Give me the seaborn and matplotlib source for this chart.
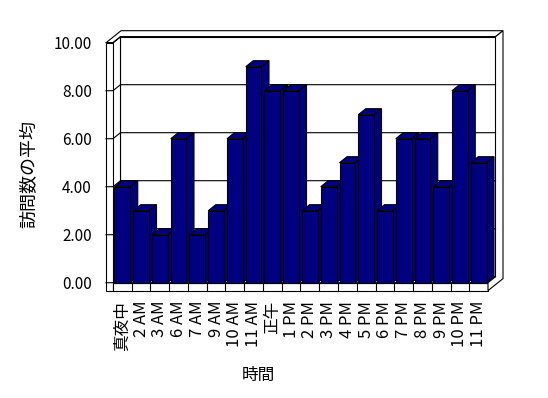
import numpy as np
import pandas as pd
import matplotlib
matplotlib.use("Agg")
import matplotlib.pyplot as plt
import seaborn as sns
from matplotlib.patches import Polygon

# Data
hours = ["真夜中", "2 AM", "3 AM", "6 AM", "7 AM", "9 AM", "10 AM", "11 AM", "正午",
         "1 PM", "2 PM", "3 PM", "4 PM", "5 PM", "6 PM", "7 PM", "8 PM", "9 PM",
         "10 PM", "11 PM"]
visits = [4, 3, 2, 6, 2, 3, 6, 9, 8, 8, 3, 4, 5, 7, 3, 6, 6, 4, 8, 5]
y_ticks = [0, 2, 4, 6, 8, 10]

df = pd.DataFrame({"時間": hours, "訪問数の平均": visits})

plt.rcParams['font.family'] = ['Noto Sans CJK JP', 'DejaVu Sans']

fig = plt.figure(figsize=(5.48, 3.98), dpi=100)
# axes box in pixels: left 100, right 510, top 25, bottom 295
ax = fig.add_axes([100 / 548, 103 / 398, 410 / 548, 270 / 398])

navy = "#000080"
sns.barplot(data=df, x="時間", y="訪問数の平均", order=hours, color=navy,
            saturation=1, width=0.84, edgecolor="black", linewidth=0.8, ax=ax)
bars = list(ax.patches)

# fake 3D: one depth step = 7.5px right, 6px up
DX, DY = 0.4, 0.25
WALL = 0.37    # left wall thickness (x units)
FLOOR = 0.33   # floor thickness (y units)
top = y_ticks[-1]
x0, x1 = -0.5, len(hours) - 0.5


def proj(x, v, z):
    return (x + z * DX, v + z * DY)


def face(pts, zorder, fc="white"):
    ax.add_patch(Polygon([proj(*p) for p in pts], closed=True, facecolor=fc,
                         edgecolor="black", linewidth=0.8, zorder=zorder))


# back wall, left wall inner face, floor top
face([(x0, 0, 1), (x1, 0, 1), (x1, top, 1), (x0, top, 1)], 1)
face([(x0, 0, 0), (x0, top, 0), (x0, top, 1), (x0, 0, 1)], 1.5)
face([(x0, 0, 0), (x1, 0, 0), (x1, 0, 1), (x0, 0, 1)], 2)

# wall tops, left wall front, floor front, right side
face([(x0 - WALL, top, 0), (x0, top, 0), (x0, top, 1), (x1, top, 1),
      (x1, top, 2), (x0 - WALL, top, 2)], 4)
face([(x0 - WALL, -FLOOR, 0), (x0, -FLOOR, 0), (x0, top, 0), (x0 - WALL, top, 0)], 4)
face([(x0, -FLOOR, 0), (x1, -FLOOR, 0), (x1, 0, 0), (x0, 0, 0)], 4)
face([(x1, 0, 0), (x1, -FLOOR, 0), (x1, -FLOOR, 2), (x1, top, 2),
      (x1, top, 1), (x1, 0, 1)], 4)

# category dividers on the floor front
for k in range(1, len(hours)):
    ax.plot([x0 + k, x0 + k], [-FLOOR, 0], color="black", lw=0.8, zorder=5)

# gridlines: across the left wall, then along the back wall
for v in y_ticks:
    pts = [proj(x0 - WALL, v, 0), proj(x0, v, 0), proj(x0, v, 1), proj(x1, v, 1)]
    ax.plot([p[0] for p in pts], [p[1] for p in pts], color="black", lw=0.8, zorder=5)

# bar tops and sides
for i, b in enumerate(bars):
    xl, w, h = b.get_x(), b.get_width(), b.get_height()
    b.set_zorder(11 + 2 * i)
    face([(xl, h, 0), (xl + w, h, 0), (xl + w, h, 1), (xl, h, 1)], 10 + 2 * i, navy)
    face([(xl + w, 0, 0), (xl + w, h, 0), (xl + w, h, 1), (xl + w, 0, 1)], 10 + 2 * i, navy)

ax.set_xlim(-1.193, 20.673)
ax.set_ylim(-0.5125, 10.7375)
for s in ax.spines.values():
    s.set_visible(False)

ax.set_yticks(y_ticks, labels=[f"{t:.2f}" for t in y_ticks])
ax.tick_params(axis="y", length=0, pad=5.8, labelsize=11)
ax.tick_params(axis="x", length=0, pad=4.3, labelrotation=90, labelsize=12)
ax.set_xlabel("")
ax.set_ylabel("")

fig.text(258 / 548, 1 - 375.5 / 398, "時間", ha="center", va="center", fontsize=12)
fig.text(29 / 548, 1 - 174 / 398, "訪問数の平均", ha="center", va="center",
         rotation=90, fontsize=13)

fig.savefig("out.png", dpi=100)
